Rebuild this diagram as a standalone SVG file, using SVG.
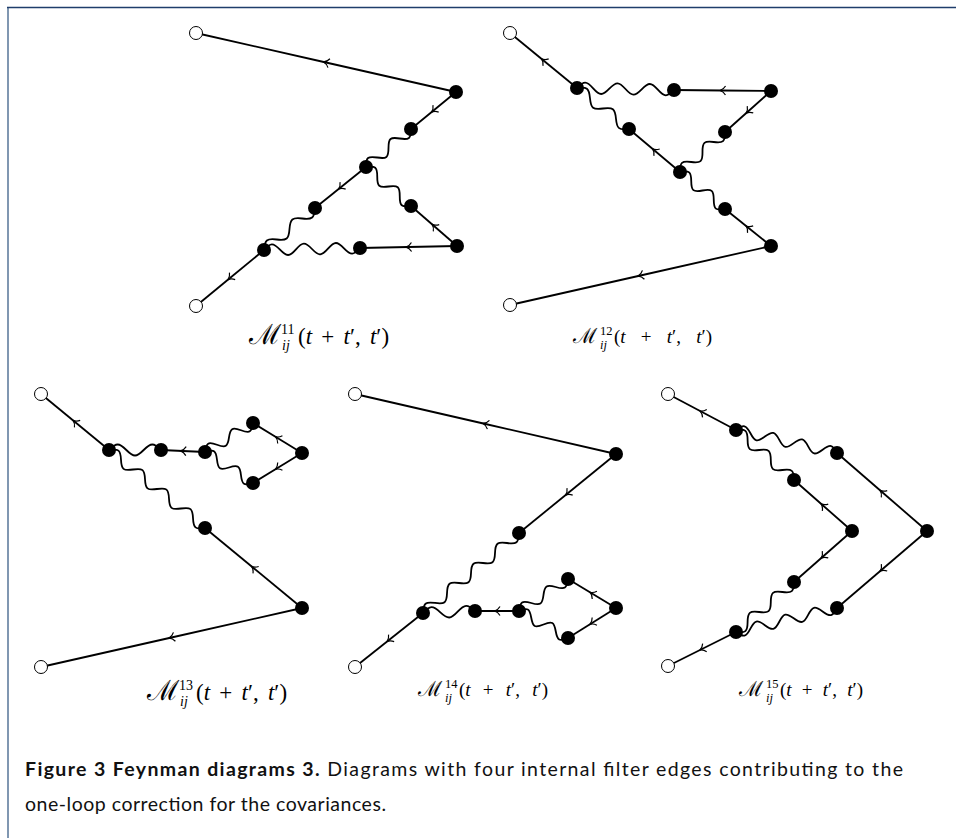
<svg xmlns="http://www.w3.org/2000/svg" xmlns:xlink="http://www.w3.org/1999/xlink" width="956" height="838" viewBox="0 0 956 838">
<style>
.e{fill:none;stroke:#000;stroke-width:1.8;marker-mid:url(#ar)}
.wv{fill:none;stroke:#000;stroke-width:1.8;vector-effect:non-scaling-stroke}
.v{fill:#000}
.o{fill:#fff;stroke:#000;stroke-width:1}
.lab{font-family:"Liberation Serif","DejaVu Serif",serif;fill:#000}
.m{font-family:"DejaVu Serif","Liberation Serif",serif}
.i{font-style:italic}
.cap{font-family:Lato,"Open Sans",sans-serif;font-size:19.5px;fill:#111}
</style>
<defs>
<marker id="ar" viewBox="-5 -6 10 12" markerWidth="10" markerHeight="12" refX="0" refY="0" orient="auto" markerUnits="userSpaceOnUse">
<path d="M-3,-4.5 Q-1,-1 2.5,0 Q-1,1 -3,4.5" fill="none" stroke="#000" stroke-width="1.2"/>
</marker>
<path id="w3" class="wv" d="M0,0 c6.3,-7.33 8.7,-7.33 15,0 s8.7,7.33 15,0 s8.7,-7.33 15,0"/>
<path id="w4" class="wv" d="M0,0 c6.3,-7.33 8.7,-7.33 15,0 s8.7,7.33 15,0 s8.7,-7.33 15,0 s8.7,7.33 15,0"/>
<path id="w5" class="wv" d="M0,0 c6.3,-7.33 8.7,-7.33 15,0 s8.7,7.33 15,0 s8.7,-7.33 15,0 s8.7,7.33 15,0 s8.7,-7.33 15,0"/>
<path id="w6" class="wv" d="M0,0 c6.3,-7.33 8.7,-7.33 15,0 s8.7,7.33 15,0 s8.7,-7.33 15,0 s8.7,7.33 15,0 s8.7,-7.33 15,0 s8.7,7.33 15,0"/>
<path id="w7" class="wv" d="M0,0 c6.3,-7.33 8.7,-7.33 15,0 s8.7,7.33 15,0 s8.7,-7.33 15,0 s8.7,7.33 15,0 s8.7,-7.33 15,0 s8.7,7.33 15,0 s8.7,-7.33 15,0"/>
<path id="w8" class="wv" d="M0,0 c6.3,-7.33 8.7,-7.33 15,0 s8.7,7.33 15,0 s8.7,-7.33 15,0 s8.7,7.33 15,0 s8.7,-7.33 15,0 s8.7,7.33 15,0 s8.7,-7.33 15,0 s8.7,7.33 15,0"/>
</defs>
<rect width="956" height="838" fill="#fff"/>
<g id="frame">
<line x1="8" y1="7" x2="8" y2="838" stroke="#8097b1" stroke-width="2"/>
<line x1="7" y1="7.5" x2="956" y2="7.5" stroke="#1f3d6b" stroke-width="1.6"/>
</g>
<g id="connectors">
<!-- diagram 11 -->
<path class="e" d="M456,92 L326,62.5 L196,33"/>
<path class="e" d="M456,92 L433.5,110.5 L411,129"/>
<path class="e" d="M366,167 L340.5,187.5 L315,208"/>
<path class="e" d="M264,250 L230,278 L196,306"/>
<path class="e" d="M457,246 L434,226 L411,206"/>
<path class="e" d="M457,246 L408.5,247 L360,248"/>
<use href="#w4" transform="translate(411,129) rotate(139.82) scale(0.982,1)"/>
<use href="#w4" transform="translate(315,208) rotate(140.53) scale(1.101,1)"/>
<use href="#w4" transform="translate(366,167) rotate(40.91) scale(0.9925,1)"/>
<use href="#w6" transform="translate(360,248) rotate(178.81) scale(1.067,1)"/>
<!-- diagram 12 -->
<path class="e" d="M577,88 L543.5,60.5 L510,33"/>
<path class="e" d="M771,91 L722.5,90.5 L674,90"/>
<path class="e" d="M771,91 L748,111.5 L725,132"/>
<path class="e" d="M680,172 L654.5,150.5 L629,129"/>
<path class="e" d="M771,246 L748,227.5 L725,209"/>
<path class="e" d="M771,246 L640.5,275.5 L510,305"/>
<use href="#w6" transform="translate(577,88) rotate(1.18) scale(1.078,1)"/>
<use href="#w4" transform="translate(725,132) rotate(138.37) scale(1.003,1)"/>
<use href="#w4" transform="translate(577,88) rotate(38.25) scale(1.103,1)"/>
<use href="#w4" transform="translate(680,172) rotate(39.43) scale(0.971,1)"/>
<!-- diagram 13 -->
<path class="e" d="M109,450 L75,422 L41,394"/>
<path class="e" d="M205,452 L183,451 L161,450"/>
<path class="e" d="M302,453 L277.5,438 L253,423"/>
<path class="e" d="M302,453 L277.5,468 L253,483"/>
<path class="e" d="M302,608 L253.5,568 L205,528"/>
<path class="e" d="M302,608 L171.5,637.5 L41,667"/>
<use href="#w3" transform="translate(109,450) rotate(0) scale(1.156,1)"/>
<use href="#w4" transform="translate(205,452) rotate(-31.14) scale(0.935,1)"/>
<use href="#w4" transform="translate(205,452) rotate(32.86) scale(0.952,1)"/>
<use href="#w8" transform="translate(109,450) rotate(39.09) scale(1.031,1)"/>
<!-- diagram 14 -->
<path class="e" d="M616,454 L485.5,424 L355,394"/>
<path class="e" d="M616,454 L567.5,493.5 L519,533"/>
<path class="e" d="M519,611 L497,611 L475,611"/>
<path class="e" d="M616,608 L592,593.5 L568,579"/>
<path class="e" d="M616,608 L592,623 L568,638"/>
<path class="e" d="M423,613 L389,640 L355,667"/>
<use href="#w8" transform="translate(519,533) rotate(140.19) scale(1.041,1)"/>
<use href="#w3" transform="translate(423,613) rotate(-2.2) scale(1.156,1)"/>
<use href="#w4" transform="translate(519,611) rotate(-33.15) scale(0.975,1)"/>
<use href="#w4" transform="translate(519,611) rotate(28.86) scale(0.932,1)"/>
<!-- diagram 15 -->
<path class="e" d="M736,430 L702,412 L668,394"/>
<path class="e" d="M927,531 L882,492 L837,453"/>
<path class="e" d="M852,531 L823,505.5 L794,480"/>
<path class="e" d="M852,531 L823,556.5 L794,582"/>
<path class="e" d="M927,531 L882,569.5 L837,608"/>
<path class="e" d="M736,632 L702,649 L668,666"/>
<use href="#w7" transform="translate(736,430) rotate(12.83) scale(0.987,1)"/>
<use href="#w5" transform="translate(736,430) rotate(40.76) scale(1.021,1)"/>
<use href="#w5" transform="translate(794,582) rotate(139.24) scale(1.021,1)"/>
<use href="#w7" transform="translate(837,608) rotate(166.63) scale(0.989,1)"/>
</g>
<g id="nodes">
<g id="d11-o1"><circle class="o" cx="196" cy="33" r="6.5"/></g>
<g id="d11-o2"><circle class="o" cx="196" cy="306" r="6.5"/></g>
<g id="d11-a"><circle class="v" cx="456" cy="92" r="7"/></g>
<g id="d11-b"><circle class="v" cx="411" cy="129" r="7"/></g>
<g id="d11-c"><circle class="v" cx="366" cy="167" r="7"/></g>
<g id="d11-d"><circle class="v" cx="315" cy="208" r="7"/></g>
<g id="d11-e"><circle class="v" cx="264" cy="250" r="7"/></g>
<g id="d11-f"><circle class="v" cx="411" cy="206" r="7"/></g>
<g id="d11-g"><circle class="v" cx="457" cy="246" r="7"/></g>
<g id="d11-h"><circle class="v" cx="360" cy="248" r="7"/></g>

<g id="d12-o1"><circle class="o" cx="510" cy="33" r="6.5"/></g>
<g id="d12-o2"><circle class="o" cx="510" cy="305" r="6.5"/></g>
<g id="d12-p1"><circle class="v" cx="577" cy="88" r="7"/></g>
<g id="d12-p2"><circle class="v" cx="674" cy="90" r="7"/></g>
<g id="d12-p3"><circle class="v" cx="771" cy="91" r="7"/></g>
<g id="d12-p4"><circle class="v" cx="629" cy="129" r="7"/></g>
<g id="d12-p5"><circle class="v" cx="725" cy="132" r="7"/></g>
<g id="d12-p6"><circle class="v" cx="680" cy="172" r="7"/></g>
<g id="d12-p7"><circle class="v" cx="725" cy="209" r="7"/></g>
<g id="d12-p8"><circle class="v" cx="771" cy="246" r="7"/></g>

<g id="d13-o1"><circle class="o" cx="41" cy="394" r="6.5"/></g>
<g id="d13-o2"><circle class="o" cx="41" cy="667" r="6.5"/></g>
<g id="d13-q1"><circle class="v" cx="109" cy="450" r="7"/></g>
<g id="d13-q2"><circle class="v" cx="161" cy="450" r="7"/></g>
<g id="d13-q3"><circle class="v" cx="205" cy="452" r="7"/></g>
<g id="d13-q4"><circle class="v" cx="253" cy="423" r="7"/></g>
<g id="d13-q5"><circle class="v" cx="302" cy="453" r="7"/></g>
<g id="d13-q6"><circle class="v" cx="253" cy="483" r="7"/></g>
<g id="d13-q7"><circle class="v" cx="205" cy="528" r="7"/></g>
<g id="d13-q8"><circle class="v" cx="302" cy="608" r="7"/></g>

<g id="d14-o1"><circle class="o" cx="355" cy="394" r="6.5"/></g>
<g id="d14-o2"><circle class="o" cx="355" cy="667" r="6.5"/></g>
<g id="d14-r1"><circle class="v" cx="616" cy="454" r="7"/></g>
<g id="d14-r2"><circle class="v" cx="519" cy="533" r="7"/></g>
<g id="d14-r3"><circle class="v" cx="423" cy="613" r="7"/></g>
<g id="d14-r4"><circle class="v" cx="475" cy="611" r="7"/></g>
<g id="d14-r5"><circle class="v" cx="519" cy="611" r="7"/></g>
<g id="d14-r6"><circle class="v" cx="568" cy="579" r="7"/></g>
<g id="d14-r7"><circle class="v" cx="616" cy="608" r="7"/></g>
<g id="d14-r8"><circle class="v" cx="568" cy="638" r="7"/></g>

<g id="d15-o1"><circle class="o" cx="668" cy="394" r="6.5"/></g>
<g id="d15-o2"><circle class="o" cx="668" cy="666" r="6.5"/></g>
<g id="d15-s1"><circle class="v" cx="736" cy="430" r="7"/></g>
<g id="d15-s2"><circle class="v" cx="837" cy="453" r="7"/></g>
<g id="d15-s3"><circle class="v" cx="794" cy="480" r="7"/></g>
<g id="d15-s4"><circle class="v" cx="852" cy="531" r="7"/></g>
<g id="d15-s5"><circle class="v" cx="927" cy="531" r="7"/></g>
<g id="d15-s6"><circle class="v" cx="794" cy="582" r="7"/></g>
<g id="d15-s7"><circle class="v" cx="837" cy="608" r="7"/></g>
<g id="d15-s8"><circle class="v" cx="736" cy="632" r="7"/></g>
</g>
<g id="labels">
<text class="lab" font-size="23"><tspan class="m" x="249" y="344" font-size="28">ℳ</tspan><tspan x="281" y="334" font-size="14">11</tspan><tspan class="i" x="282" y="350" font-size="14">ij</tspan><tspan x="298" y="344" word-spacing="3.5">(<tspan class="i">t</tspan> + <tspan class="i">t</tspan>′, <tspan class="i">t</tspan>′)</tspan></text>
<text class="lab" font-size="19"><tspan class="m" x="573" y="343" font-size="21">ℳ</tspan><tspan x="600" y="335" font-size="12.5">12</tspan><tspan class="i" x="600" y="349" font-size="12.5">ij</tspan><tspan x="614" y="343" word-spacing="10.5">(<tspan class="i">t</tspan> + <tspan class="i">t</tspan>′, <tspan class="i">t</tspan>′)</tspan></text>
<text class="lab" font-size="23"><tspan class="m" x="147" y="700" font-size="28">ℳ</tspan><tspan x="179" y="690" font-size="14">13</tspan><tspan class="i" x="180" y="706" font-size="14">ij</tspan><tspan x="196" y="700" word-spacing="3.5">(<tspan class="i">t</tspan> + <tspan class="i">t</tspan>′, <tspan class="i">t</tspan>′)</tspan></text>
<text class="lab" font-size="19"><tspan class="m" x="418" y="696" font-size="21">ℳ</tspan><tspan x="445" y="688" font-size="12.5">14</tspan><tspan class="i" x="445" y="702" font-size="12.5">ij</tspan><tspan x="459" y="696" word-spacing="7.5">(<tspan class="i">t</tspan> + <tspan class="i">t</tspan>′, <tspan class="i">t</tspan>′)</tspan></text>
<text class="lab" font-size="19"><tspan class="m" x="739" y="696" font-size="21">ℳ</tspan><tspan x="766" y="688" font-size="12.5">15</tspan><tspan class="i" x="766" y="702" font-size="12.5">ij</tspan><tspan x="780" y="696" word-spacing="5.5">(<tspan class="i">t</tspan> + <tspan class="i">t</tspan>′, <tspan class="i">t</tspan>′)</tspan></text>
</g>
<g id="caption">
<text class="cap" x="25" y="776" textLength="878" lengthAdjust="spacing"><tspan font-weight="bold">Figure 3  Feynman diagrams 3.</tspan> Diagrams with four internal filter edges contributing to the</text>
<text class="cap" x="25" y="811" textLength="361" lengthAdjust="spacing">one-loop correction for the covariances.</text>
</g>
</svg>
